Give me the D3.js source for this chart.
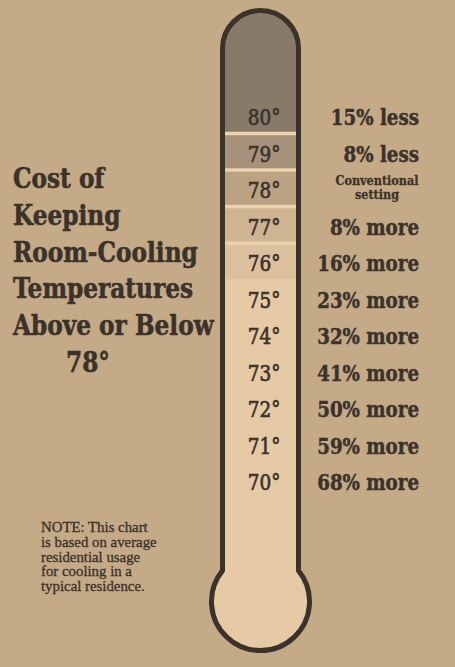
<!DOCTYPE html>
<html>
<head>
<meta charset="utf-8">
<script src="https://cdn.jsdelivr.net/npm/d3@7"></script>
<style>
  html, body { margin: 0; padding: 0; background: #c5aa87; }
  svg { display: block; }
</style>
</head>
<body>
<div id="chart"></div>
<script>
// thermometer rows, top (warmest) to bottom
var temps = [80, 79, 78, 77, 76, 75, 74, 73, 72, 71, 70];
// cost change vs the 78 degree setting, percent
var costChange = [-15, -8, 0, 8, 16, 23, 32, 41, 50, 59, 68];
var baseLabel = ['Conventional', 'setting'];

var titleLines = ['Cost of', 'Keeping', 'Room-Cooling', 'Temperatures', 'Above or Below'];
var titleTemp = '78°';
var noteLines = ['NOTE: This chart', 'is based on average', 'residential usage', 'for cooling in a', 'typical residence.'];

var width = 455,
  height = 667;

var ink = '#3b322b';
var serif = 'DejaVu Serif, serif';
var bandFill = { 80: '#877a69', 79: '#a6927a', 78: '#baa283', 77: '#cfb492', 76: '#ddc19e' };
var tubeFill = '#e6caa5';
var sepFill = '#ecd2ae';

var svg = d3.select('#chart').append('svg')
  .attr('width', width)
  .attr('height', height);

svg.append('rect')
  .attr('width', width)
  .attr('height', height)
  .attr('fill', '#c5aa87');

var y = d3.scalePoint()
  .domain(temps)
  .range([117, 482]);
var step = y.step();

// tube geometry
var cx = 260.5,
  halfW = 38,
  domeY = 48.5,
  bulbY = 601.5,
  bulbR = 49;
var joinY = bulbY - Math.sqrt(bulbR * bulbR - halfW * halfW);

var tubePath = 'M' + (cx - halfW) + ',' + joinY +
  'L' + (cx - halfW) + ',' + domeY +
  'A' + halfW + ',' + halfW + ' 0 0 1 ' + (cx + halfW) + ',' + domeY +
  'L' + (cx + halfW) + ',' + joinY +
  'A' + bulbR + ',' + bulbR + ' 0 1 1 ' + (cx - halfW) + ',' + joinY + 'Z';

svg.append('clipPath')
  .attr('id', 'tube-clip')
  .append('path')
  .attr('d', tubePath);

svg.append('path')
  .attr('d', tubePath)
  .attr('fill', tubeFill);

var bands = svg.append('g').attr('clip-path', 'url(#tube-clip)');

function bandBottom(t) {
  return y(t) + step / 2 - 2;
}

var shaded = temps.filter(function(t) { return bandFill[t]; });

bands.selectAll('rect.band')
  .data(shaded)
  .enter()
  .append('rect')
  .attr('class', 'band')
  .attr('x', cx - halfW - 5)
  .attr('width', halfW * 2 + 10)
  .attr('y', function(t, i) {
    return i === 0 ? 0 : bandBottom(shaded[i - 1]);
  })
  .attr('height', function(t, i) {
    var top = i === 0 ? 0 : bandBottom(shaded[i - 1]);
    return bandBottom(t) - top;
  })
  .attr('fill', function(t) { return bandFill[t]; });

// light rules between shaded bands
bands.selectAll('rect.sep')
  .data(shaded.slice(0, -1))
  .enter()
  .append('rect')
  .attr('class', 'sep')
  .attr('x', cx - halfW - 5)
  .attr('width', halfW * 2 + 10)
  .attr('y', function(t) { return bandBottom(t) - 1.5; })
  .attr('height', 3.5)
  .attr('fill', sepFill);

svg.append('path')
  .attr('d', tubePath)
  .attr('fill', 'none')
  .attr('stroke', ink)
  .attr('stroke-width', 5);

// temperature labels inside the tube
svg.selectAll('text.temp')
  .data(temps)
  .enter()
  .append('text')
  .attr('class', 'temp')
  .attr('transform', function(t) { return 'translate(264,' + (y(t) + 8) + ') scale(0.84,1)'; })
  .attr('text-anchor', 'middle')
  .attr('font-family', serif)
  .attr('font-size', 22)
  .attr('fill', ink)
  .attr('stroke', ink)
  .attr('stroke-width', 0.7)
  .text(function(t) { return t + '°'; });

// cost labels on the right
var costG = svg.selectAll('g.cost')
  .data(temps)
  .enter()
  .append('g')
  .attr('class', 'cost');

costG.each(function(t, i) {
  var g = d3.select(this);
  var v = costChange[i];
  if (v === 0) {
    g.selectAll('text')
      .data(baseLabel)
      .enter()
      .append('text')
      .attr('transform', function(d, j) {
        return 'translate(377,' + (y(t) - 5 + j * 13.5) + ') scale(0.9,1)';
      })
      .attr('text-anchor', 'middle')
      .attr('font-family', serif)
      .attr('font-weight', 'bold')
      .attr('font-size', 12.5)
      .attr('fill', ink)
      .attr('stroke', ink)
      .attr('stroke-width', 0.3)
      .text(function(d) { return d; });
  } else {
    g.append('text')
      .attr('transform', 'translate(419,' + (y(t) + 8) + ') scale(0.83,1)')
      .attr('text-anchor', 'end')
      .attr('font-family', serif)
      .attr('font-weight', 'bold')
      .attr('font-size', 22)
      .attr('fill', ink)
      .attr('stroke', ink)
      .attr('stroke-width', 0.5)
      .text(Math.abs(v) + '% ' + (v < 0 ? 'less' : 'more'));
  }
});

// title block
var title = svg.append('g');
title.selectAll('text')
  .data(titleLines)
  .enter()
  .append('text')
  .attr('transform', function(d, i) { return 'translate(13,' + (188 + i * 36.8) + ') scale(0.83,1)'; })
  .attr('font-family', serif)
  .attr('font-weight', 'bold')
  .attr('font-size', 28)
  .attr('fill', ink)
  .attr('stroke', ink)
  .attr('stroke-width', 0.6)
  .text(function(d) { return d; });

title.append('text')
  .attr('transform', 'translate(66,' + (188 + titleLines.length * 36.8) + ') scale(0.83,1)')
  .attr('font-family', serif)
  .attr('font-weight', 'bold')
  .attr('font-size', 28)
  .attr('fill', ink)
  .attr('stroke', ink)
  .attr('stroke-width', 0.6)
  .text(titleTemp);

// footnote
svg.append('g').selectAll('text')
  .data(noteLines)
  .enter()
  .append('text')
  .attr('transform', function(d, i) { return 'translate(41,' + (532 + i * 14.8) + ') scale(1.06,1)'; })
  .attr('font-family', 'Liberation Serif, serif')
  .attr('font-size', 14)
  .attr('fill', ink)
  .attr('stroke', ink)
  .attr('stroke-width', 0.3)
  .text(function(d) { return d; });
</script>
</body>
</html>
